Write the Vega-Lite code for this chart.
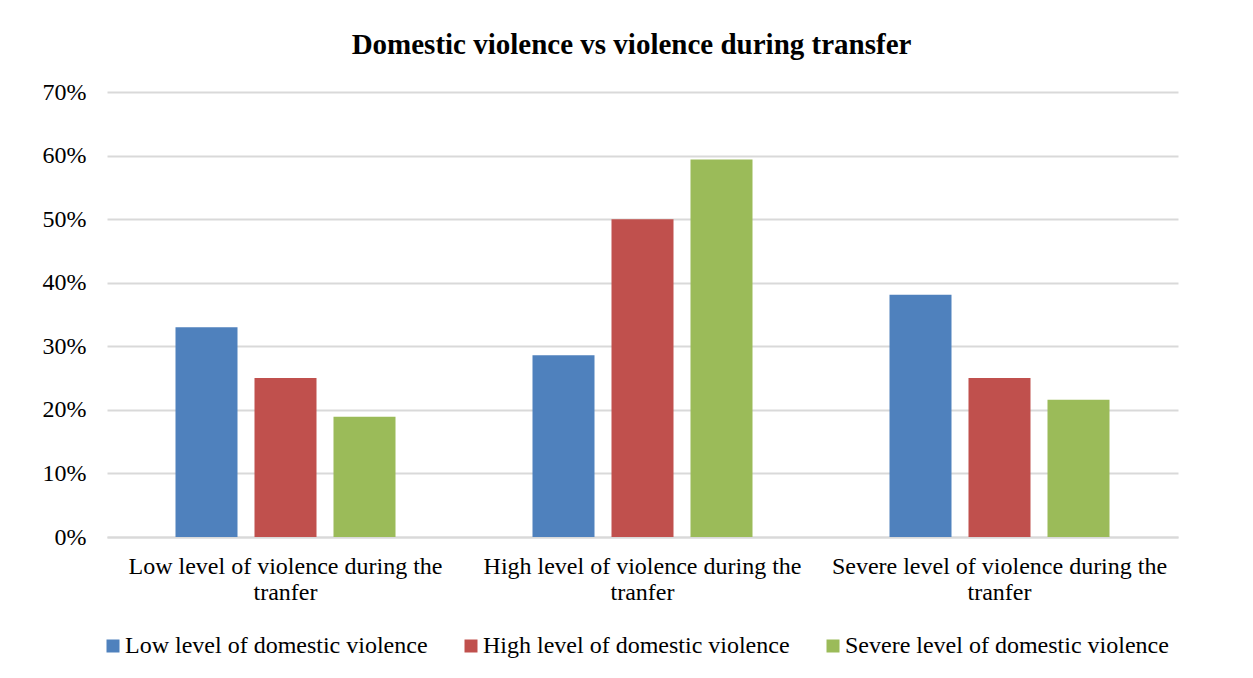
{
  "$schema": "https://vega.github.io/schema/vega-lite/v6.json",
  "autosize": {"type": "none"},
  "padding": {"left": 107, "top": 92, "right": 75, "bottom": 141},
  "width": 1071,
  "height": 445,
  "background": "white",
  "title": {
    "text": "Domestic violence vs violence during transfer",
    "font": "Liberation Serif",
    "fontSize": 29,
    "fontWeight": "bold",
    "color": "black",
    "anchor": "middle",
    "dx": -11,
    "offset": 20
  },
  "data": {
    "values": [
      {"transfer": "Low level of violence during the tranfer", "domestic": "Low level of domestic violence", "share": 0.33},
      {"transfer": "Low level of violence during the tranfer", "domestic": "High level of domestic violence", "share": 0.25},
      {"transfer": "Low level of violence during the tranfer", "domestic": "Severe level of domestic violence", "share": 0.189},
      {"transfer": "High level of violence during the tranfer", "domestic": "Low level of domestic violence", "share": 0.286},
      {"transfer": "High level of violence during the tranfer", "domestic": "High level of domestic violence", "share": 0.50},
      {"transfer": "High level of violence during the tranfer", "domestic": "Severe level of domestic violence", "share": 0.594},
      {"transfer": "Severe level of violence during the tranfer", "domestic": "Low level of domestic violence", "share": 0.381},
      {"transfer": "Severe level of violence during the tranfer", "domestic": "High level of domestic violence", "share": 0.25},
      {"transfer": "Severe level of violence during the tranfer", "domestic": "Severe level of domestic violence", "share": 0.216}
    ]
  },
  "mark": {"type": "bar"},
  "encoding": {
    "x": {
      "field": "transfer",
      "type": "nominal",
      "sort": null,
      "scale": {"paddingInner": 0, "paddingOuter": 0},
      "axis": {
        "title": null,
        "labelAngle": 0,
        "labelExpr": "[replace(datum.label, ' tranfer', ''), 'tranfer']",
        "labelFont": "Liberation Serif",
        "labelFontSize": 24,
        "labelColor": "black",
        "labelLineHeight": 26,
        "labelPadding": 17,
        "labelLimit": 0,
        "ticks": false,
        "domain": true,
        "domainColor": "#d9d9d9",
        "domainWidth": 2
      }
    },
    "xOffset": {
      "field": "domestic",
      "type": "nominal",
      "sort": null,
      "scale": {"paddingInner": 0.215, "paddingOuter": 0.867}
    },
    "y": {
      "field": "share",
      "type": "quantitative",
      "scale": {"domain": [0, 0.7], "nice": false},
      "axis": {
        "title": null,
        "format": ".0%",
        "values": [0, 0.1, 0.2, 0.3, 0.4, 0.5, 0.6, 0.7],
        "labelFont": "Liberation Serif",
        "labelFontSize": 24,
        "labelColor": "black",
        "labelPadding": 21,
        "ticks": false,
        "domain": false,
        "grid": true,
        "gridColor": "#d9d9d9",
        "gridWidth": 2
      }
    },
    "color": {
      "field": "domestic",
      "type": "nominal",
      "sort": null,
      "scale": {"range": ["#4f81bd", "#c0504d", "#9bbb59"]},
      "legend": {
        "title": null,
        "orient": "none",
        "direction": "horizontal",
        "legendX": -6,
        "legendY": 542,
        "symbolType": "square",
        "symbolSize": 169,
        "symbolStrokeWidth": 0,
        "symbolOpacity": 1,
        "labelFont": "Liberation Serif",
        "labelFontSize": 24,
        "labelColor": "black",
        "labelOffset": 0,
        "labelLimit": 0,
        "columnPadding": 31,
        "padding": 0
      }
    }
  },
  "config": {
    "view": {"stroke": null}
  }
}
